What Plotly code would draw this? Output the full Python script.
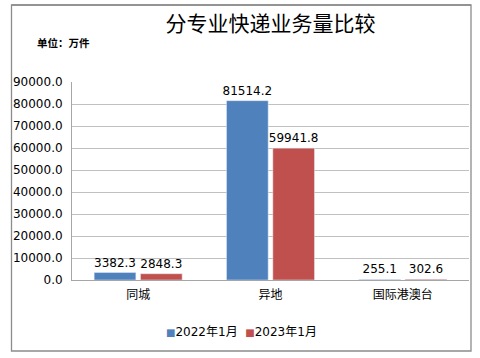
import plotly.graph_objects as go

categories = ["同城", "异地", "国际港澳台"]
series_names = ["2022年1月", "2023年1月"]
values_2022 = [3382.3, 81514.2, 255.1]
values_2023 = [2848.3, 59941.8, 302.6]
colors = ["#4F81BD", "#C0504D"]

W, H = 480, 358
L, R, T, B = 72, 11, 82, 78
pw, ph = W - L - R, H - T - B

def px(x):
    return (x - L) / pw

def py(y):
    return (H - B - y) / ph

fig = go.Figure()
for name, vals, c in zip(series_names, [values_2022, values_2023], colors):
    fig.add_trace(go.Bar(
        x=categories, y=vals, name=name, marker_color=c,
        text=[f"{v:.1f}" for v in vals], textposition="outside",
        textfont=dict(family="DejaVu Sans", size=12, color="#000000"),
        constraintext="none", cliponaxis=False, showlegend=False,
    ))

fig.update_layout(
    width=W, height=H,
    margin=dict(l=L, r=R, t=T, b=B),
    paper_bgcolor="white", plot_bgcolor="white",
    barmode="group", bargap=0.3, bargroupgap=0.1,
    title=dict(text="分专业快递业务量比较", x=0.5, xanchor="center", xref="paper",
               y=1 - 24 / H, yanchor="middle",
               font=dict(family="Noto Sans CJK SC", size=21, color="#000000")),
    xaxis=dict(showline=True, linecolor="#a6a6a6", linewidth=1,
               ticks="outside", ticklen=4, tickcolor="rgba(0,0,0,0)",
               tickfont=dict(family="Noto Sans CJK SC", size=12, color="#000000"),
               showgrid=False),
    yaxis=dict(range=[0, 90000], dtick=10000, tickformat=".1f",
               showline=True, linecolor="#a6a6a6", linewidth=1,
               gridcolor="#c0c0c0", gridwidth=1, ticks="",
               ticklabelstandoff=6,
               tickfont=dict(family="DejaVu Sans", size=12, color="#000000"),
               zeroline=False),
    font=dict(family="DejaVu Sans", color="#000000"),
)

fig.add_annotation(text="<b>单位：万件</b>", xref="paper", yref="paper",
                   x=px(35), y=py(43), xanchor="left", yanchor="middle",
                   showarrow=False,
                   font=dict(family="Noto Sans CJK SC", size=10.5, color="#000000"))

legend_text = "  ".join(
    f"<span style='color:{c};font-size:10px'>■</span>{n}" for n, c in zip(series_names, colors)
)
fig.add_annotation(text=legend_text, xref="paper", yref="paper",
                   x=px(241), y=py(332), xanchor="center", yanchor="middle",
                   showarrow=False,
                   font=dict(family="DejaVu Sans, Noto Sans CJK SC", size=12, color="#000000"))

border = dict(color="#8c8c8c", width=1.3)
fig.add_shape(type="rect", xref="paper", yref="paper",
              x0=px(11.5), x1=px(471), y0=py(351), y1=py(5),
              line=border, fillcolor="rgba(0,0,0,0)", layer="above")
fig.add_shape(type="line", xref="paper", yref="paper",
              x0=px(11.5), x1=px(471), y0=py(5), y1=py(5),
              line=border, layer="above")

fig.write_html("out.html", config={"displayModeBar": False},
               post_script="document.body.style.margin='0';document.body.style.overflow='hidden';")
